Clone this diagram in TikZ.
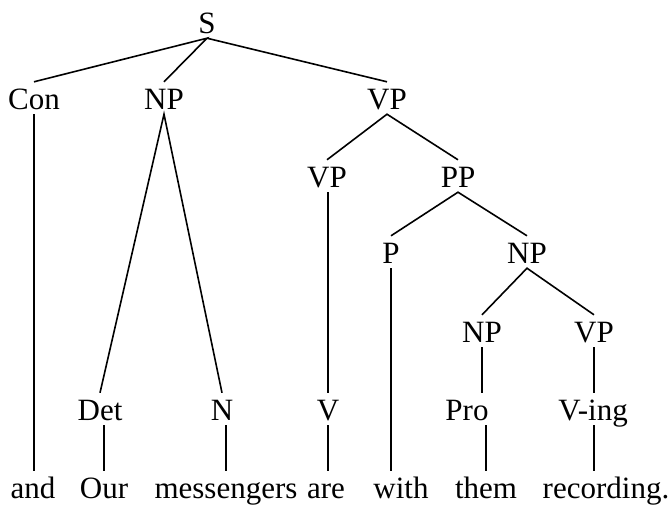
\documentclass[tikz,border=0pt]{standalone}
\usepackage{fontspec}
\setmainfont{Liberation Serif}
\usetikzlibrary{positioning,calc}

\begin{document}
\begin{tikzpicture}[
      x=1pt,y=-1pt,
      catNode/.style={anchor=base,inner sep=0pt,text height=27pt,text depth=5pt,
                      font=\fontsize{31}{37}\selectfont},
      wordNode/.style={catNode},
      brLine/.style={black,line width=1.6pt}
    ]
    \useasboundingbox (0,0) rectangle (672,507);

    % Top level
    \node(s)[catNode] at (207,33) {S};
    \node(con)[catNode] at (34,109) {Con};
    \node(np1)[catNode] at (164,109) {NP};
    \node(vp1)[catNode] at (387,109) {VP};

    % Verb phrase
    \node(vp2)[catNode] at (327,187) {VP};
    \node(pp)[catNode] at (458,187) {PP};
    \node(p)[catNode] at (391,263) {P};
    \node(np3)[catNode] at (527,263) {NP};
    \node(np4)[catNode] at (482,342) {NP};
    \node(vp3)[catNode] at (594,342) {VP};

    % Pre-terminals
    \node(det)[catNode] at (100,420) {Det};
    \node(n)[catNode] at (222,420) {N};
    \node(v)[catNode] at (328,420) {V};
    \node(pro)[catNode] at (467,420) {Pro};
    \node(ving)[catNode] at (593,420) {V-ing};

    % Words
    \node(and)[wordNode] at (33,498) {and};
    \node(our)[wordNode] at (104,498) {Our};
    \node(mess)[wordNode] at (226,498) {messengers};
    \node(are)[wordNode] at (326,498) {are};
    \node(with)[wordNode] at (401,498) {with};
    \node(them)[wordNode] at (486,498) {them};
    \node(rec)[wordNode] at (606,498) {recording.};

    % Branches
    \draw[brLine] (con.north) -- (s.south) -- (np1.north);
    \draw[brLine] (s.south) -- (vp1.north);
    \draw[brLine] (det.north) -- (np1.south) -- (n.north);
    \draw[brLine] (vp2.north) -- (vp1.south) -- (pp.north);
    \draw[brLine] (p.north) -- (pp.south) -- (np3.north);
    \draw[brLine] (np4.north) -- (np3.south) -- (vp3.north);

    % Unary branches
    \draw[brLine] (con.south) -- (con.south |- and.north);
    \draw[brLine] (det.south -| our.north) -- (our.north);
    \draw[brLine] (n.south -| mess.north) -- (mess.north);
    \draw[brLine] (vp2.south -| v.north) -- (v.north);
    \draw[brLine] (v.south) -- (v.south |- are.north);
    \draw[brLine] (p.south) -- (p.south |- with.north);
    \draw[brLine] (np4.south) -- (np4.south |- pro.north);
    \draw[brLine] (pro.south -| them.north) -- (them.north);
    \draw[brLine] (vp3.south) -- (vp3.south |- ving.north);
    \draw[brLine] (vp3.south |- ving.south) -- (vp3.south |- rec.north);
  \end{tikzpicture}
\end{document}
